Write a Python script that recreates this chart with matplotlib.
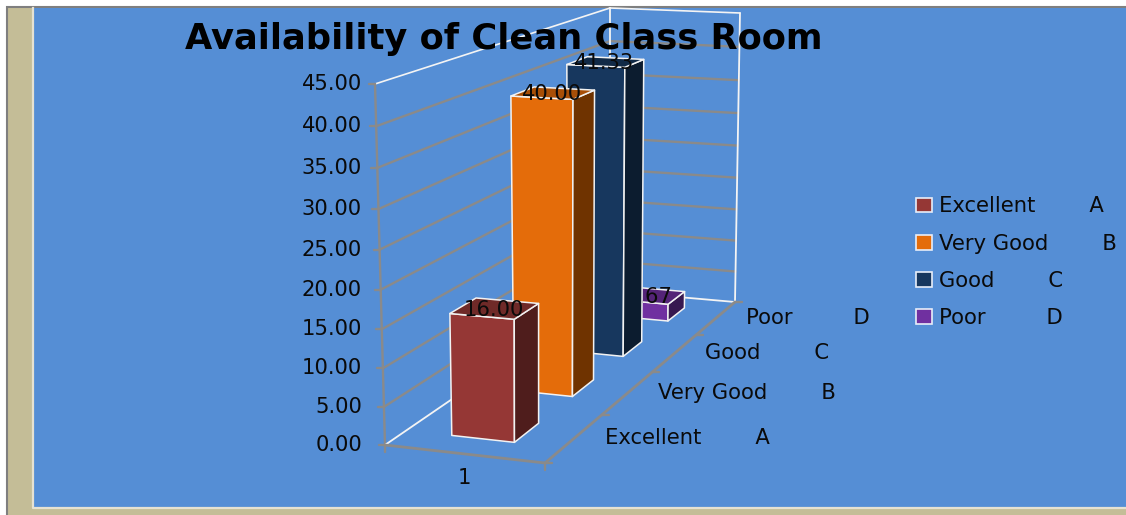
import numpy as np
import matplotlib
matplotlib.use("Agg")
import matplotlib.pyplot as plt
from matplotlib.patches import Polygon, Rectangle, Patch

# ---- data ----
title = "Availability of Clean Class Room"
categories = ["Excellent        A", "Very Good        B", "Good        C", "Poor         D"]
values = [16.00, 40.00, 41.33, 2.67]
value_labels = ["16.00", "40.00", "41.33", "2.67"]
value_ticks = [0, 5, 10, 15, 20, 25, 30, 35, 40, 45]
x_label = "1"

# ---- style ----
front_colors = ["#953735", "#E46C0A", "#17375E", "#7030A0"]
side_colors = ["#4F1D1C", "#6F3300", "#0C1C2F", "#371850"]
top_colors = ["#6F2A28", "#A84F07", "#112A47", "#542478"]
BLUE, TAN, GRAY, GRID = "#558ED5", "#C4BD97", "#7F7F7F", "#8A8A8A"
W_EDGE = "#F4F4F4"
FS = 15.2

fig = plt.figure(figsize=(11.26, 5.15), dpi=100, facecolor="white")
ax = fig.add_axes([0, 0, 1, 1])
ax.set_xlim(0, 1126)
ax.set_ylim(515, 0)
ax.axis("off")

# panel
ax.add_patch(Rectangle((7, 7), 1125, 515, fc=TAN, ec=GRAY, lw=1.5, zorder=0))
ax.add_patch(Rectangle((34, 8), 1100, 499, fc=BLUE, ec="none", zorder=0.1))
ax.plot([33, 33, 1126], [8, 508, 508], color="#E6E2D2", lw=1.6, zorder=0.2)

# projection of the 3-D box: s across, d depth (0..1), v value
floor = {"fl": (385, 445), "fr": (545, 463), "bl": (610, 291), "br": (735, 302)}
roof = {"fl": (375, 84), "fr": (548, 93), "bl": (610, 8), "br": (740, 13)}
VMAX = 45.0


def depth(d, w=0.774):
    return d / (w + (1 - w) * d)


def rise(v, w=1.06):
    u = v / VMAX
    return u / (w * (1 - u) + u)


def bilin(c, s, f):
    c = {k: np.array(p, float) for k, p in c.items()}
    return (1 - f) * ((1 - s) * c["fl"] + s * c["fr"]) + f * ((1 - s) * c["bl"] + s * c["br"])


def P(s, d, v=0.0):
    f = depth(d)
    a, b = bilin(floor, s, f), bilin(roof, s, f)
    return a + (b - a) * rise(v)


def line(pts, color, lw=1.7, z=1):
    xy = np.array(pts)
    ax.plot(xy[:, 0], xy[:, 1], color=color, lw=lw, zorder=z, solid_capstyle="round")


# walls
for v in value_ticks:
    col = W_EDGE if v == VMAX else GRID
    if v > 0:
        line([P(0, 0, v), P(0, 1, v)], col, 1.7 if v < VMAX else 1.2)
        line([P(0, 1, v), P(1, 1, v)], col, 1.7 if v < VMAX else 1.2)
    p = P(0, 0, v)
    line([p + (-6, 0), p], GRID, 1.7)
    ax.text(362, p[1], f"{v:.2f}", ha="right", va="center", fontsize=FS, color="#0A0A0A", zorder=2)
line([P(0, 0, 0), P(0, 0, VMAX)], GRID, 1.7)
line([P(1, 1, 0), P(1, 1, VMAX)], W_EDGE, 1.3)
line([P(0, 1, 0), P(0, 1, VMAX)], W_EDGE, 1.3)
line([P(0, 0), P(0, 1)], W_EDGE, 1.3)
line([P(0, 1), P(1, 1)], W_EDGE, 1.3)

# axes on the floor front and right
line([P(0, 0), P(1, 0)], GRID, 2.0, 1.5)
line([P(1, 0), P(1, 1)], GRID, 2.0, 1.5)
for s in (0, 1):
    p = P(s, 0)
    line([p, p + (0, 7)], GRID, 1.7)
n = len(categories)
for i in range(n + 1):
    p = P(1, i / n)
    line([p, p + (7, 0)], GRID, 1.7)
ax.text(464, 478, x_label, ha="center", va="center", fontsize=FS, color="#0A0A0A")
for i, c in enumerate(categories):
    p = P(1, (i + 0.5) / n)
    ax.text(p[0] + 30, p[1], c, ha="left", va="center", fontsize=FS, color="#0A0A0A")

# bars, back to front
S0, S1, HD = 0.29, 0.69, 0.05
for i in reversed(range(n)):
    d0, d1 = (i + 0.5) / n - HD, (i + 0.5) / n + HD
    v = values[i]
    z = 3 + (n - i)
    front = [P(S0, d0), P(S1, d0), P(S1, d0, v), P(S0, d0, v)]
    side = [P(S1, d0), P(S1, d1), P(S1, d1, v), P(S1, d0, v)]
    top = [P(S0, d0, v), P(S1, d0, v), P(S1, d1, v), P(S0, d1, v)]
    for poly, col in ((front, front_colors[i]), (side, side_colors[i]), (top, top_colors[i])):
        ax.add_patch(Polygon(poly, closed=True, fc=col, ec="#F2F2F2", lw=1.1, joinstyle="round", zorder=z))
    c = P(0.5, (d0 + d1) / 2, v)
    ax.text(c[0] - 3, c[1] + 1, value_labels[i], ha="center", va="center",
            fontsize=FS, color="#0A0A0A", zorder=z + 0.5)

ax.text(504, 39, title, ha="center", va="center", fontsize=25.4, fontweight="bold",
        color="black", zorder=20)

handles = [Patch(fc=c, ec="#E8EEF8", lw=1.2) for c in front_colors]
ax.legend(handles, categories, loc="upper left", bbox_to_anchor=(910 / 1126, 1 - 190 / 515),
          bbox_transform=fig.transFigure, frameon=False, fontsize=FS, labelcolor="#0A0A0A",
          handlelength=0.75, handleheight=0.7, handletextpad=0.33, labelspacing=0.82,
          borderpad=0.3, borderaxespad=0)

fig.savefig("out.png", dpi=100, facecolor="white")
